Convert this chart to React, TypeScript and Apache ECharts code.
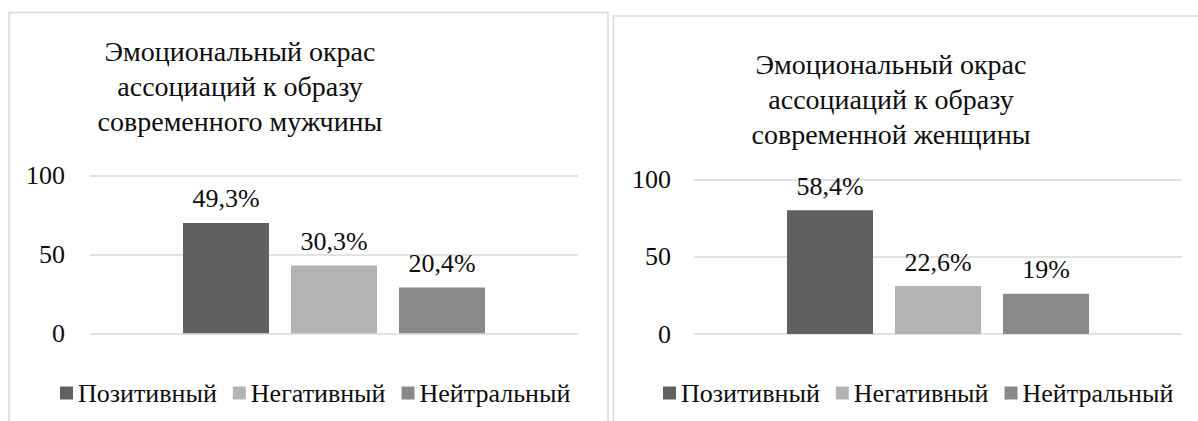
import React, { useEffect, useRef } from "react";
import * as echarts from "echarts";

const seriesNames = ["Позитивный", "Негативный", "Нейтральный"];
const seriesColors = ["#606060", "#b3b3b3", "#898989"];
const menValues = [70, 43, 29];
const menLabels = ["49,3%", "30,3%", "20,4%"];
const womenValues = [80, 31, 26];
const womenLabels = ["58,4%", "22,6%", "19%"];
const menTitle = "Эмоциональный окрас\nассоциаций к образу\nсовременного мужчины";
const womenTitle = "Эмоциональный окрас\nассоциаций к образу\nсовременной женщины";

const FONT = "Liberation Serif";
const TEXT = "#0d0d0d";
const GRIDC = "#d9d9d9";
const FS = 26;

function buildSeries(values: number[], labels: string[], idx: number) {
  return values.map((v, i) => ({
    name: seriesNames[i],
    type: "bar",
    xAxisIndex: idx,
    yAxisIndex: idx,
    data: [v],
    barWidth: 86,
    barGap: "25.6%",
    itemStyle: { color: seriesColors[i] },
    label: {
      show: true,
      position: "top",
      distance: 11,
      formatter: () => labels[i],
      fontFamily: FONT,
      fontSize: FS,
      color: TEXT,
    },
  }));
}

function yAxis(idx: number, margin: number) {
  return {
    type: "value",
    gridIndex: idx,
    min: 0,
    max: 100,
    interval: 50,
    axisLine: { show: false },
    axisTick: { show: false },
    axisLabel: { fontFamily: FONT, fontSize: FS, color: TEXT, margin },
    splitLine: { lineStyle: { color: GRIDC, width: 1.5 } },
  };
}

function xAxis(idx: number) {
  return {
    type: "category",
    gridIndex: idx,
    data: [""],
    axisLine: { show: false },
    axisTick: { show: false },
    axisLabel: { show: false },
  };
}

export default function App() {
  const ref = useRef<HTMLDivElement>(null);
  useEffect(() => {
    if (!ref.current) return;
    const chart = echarts.init(ref.current, null, { renderer: "svg" });
    chart.setOption({
      animation: false,
      graphic: [
        {
          type: "rect",
          shape: { x: 9, y: 12.5, width: 599, height: 440 },
          style: { fill: "none", stroke: GRIDC, lineWidth: 1.5 },
          z: -1,
        },
        {
          type: "rect",
          shape: { x: 613.5, y: 16, width: 640, height: 440 },
          style: { fill: "none", stroke: GRIDC, lineWidth: 1.5 },
          z: -1,
        },
        {
          type: "text",
          x: 240,
          y: 34,
          style: {
            text: menTitle,
            fontFamily: FONT,
            fontSize: 28,
            lineHeight: 35,
            fill: TEXT,
            align: "center",
            verticalAlign: "top",
          },
        },
        {
          type: "text",
          x: 891,
          y: 47,
          style: {
            text: womenTitle,
            fontFamily: FONT,
            fontSize: 28,
            lineHeight: 35,
            fill: TEXT,
            align: "center",
            verticalAlign: "top",
          },
        },
      ],
      grid: [
        { left: 90, right: 620, top: 175.7, bottom: 87.7 },
        { left: 694, right: 16, top: 179.3, bottom: 87 },
      ],
      xAxis: [xAxis(0), xAxis(1)],
      yAxis: [yAxis(0, 25), yAxis(1, 23)],
      legend: [
        {
          data: seriesNames,
          left: 55,
          top: 375,
          icon: "rect",
          itemWidth: 13,
          itemHeight: 13,
          itemGap: 16,
          selectedMode: false,
          textStyle: { fontFamily: FONT, fontSize: FS, color: TEXT },
        },
        {
          data: seriesNames,
          left: 658,
          top: 375,
          icon: "rect",
          itemWidth: 13,
          itemHeight: 13,
          itemGap: 16,
          selectedMode: false,
          textStyle: { fontFamily: FONT, fontSize: FS, color: TEXT },
        },
      ],
      series: [...buildSeries(menValues, menLabels, 0), ...buildSeries(womenValues, womenLabels, 1)],
    });
    return () => chart.dispose();
  }, []);
  return (
    <div
      ref={ref}
      style={{ position: "absolute", left: 0, top: 0, width: 1198, height: 421 }}
    />
  );
}
